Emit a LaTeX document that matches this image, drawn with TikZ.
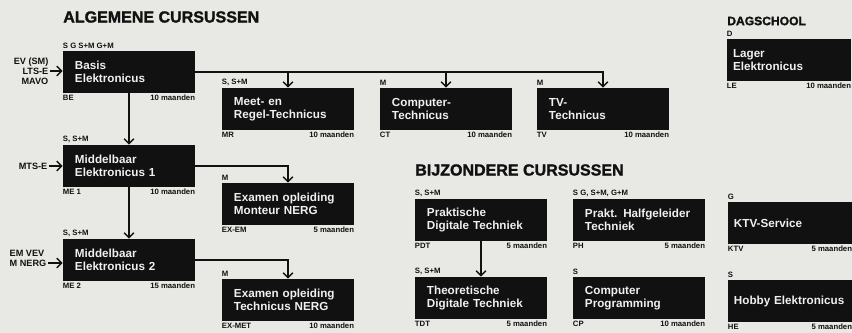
\documentclass[tikz,border=0pt]{standalone}
\usepackage{fontspec}
\setmainfont{Liberation Sans}
\newfontfamily\blackfont{Liberation Sans}[BoldFeatures={FakeBold=1.6}]
\usetikzlibrary{arrows.meta}
\definecolor{Paper}{HTML}{E8E8E4}
\definecolor{Ink}{HTML}{111111}

\begin{document}
\begin{tikzpicture}[x=0.025cm,y=-0.025cm,font=\bfseries,>={Straight Barb[length=3.5pt,width=7pt]}]
  \tikzset{
    course/.style={fill=Ink,text=white!94!black,minimum width=3.3cm,minimum height=1.05cm,
      text width=2.7cm,inner xsep=.3cm,align=left,font=\bfseries\fontsize{8.3}{9.4}\selectfont},
    edge course/.style={course,minimum width=3.1cm,text width=2.8cm,inner xsep=.15cm},
    tag/.style={inner xsep=0pt,inner ysep=1.2pt,text=Ink,font=\bfseries\fontsize{5.5}{6}\selectfont},
    entry/.style={inner sep=1pt,text=Ink,font=\bfseries\fontsize{6.5}{7.2}\selectfont},
    title/.style={anchor=west,inner sep=0pt,text=Ink,font=\blackfont\bfseries\fontsize{11.4}{12}\selectfont},
    arr/.style={->,draw=Ink,line width=1pt}
  }
  \clip (0,0) rectangle (852,333);
  \fill[Paper] (0,0) rectangle (852,333);

  % algemene cursussen
  \node[title] (alg) at (63,17) {ALGEMENE CURSUSSEN};
  \node[course,
    label={[tag,anchor=south west]north west:S G S+M G+M},
    label={[tag,anchor=north west]south west:BE},
    label={[tag,anchor=north east]south east:10 maanden}] (basis) at (129,72)
    {Basis\\Elektronicus};
  \node[course,
    label={[tag,anchor=south west]north west:S, S+M},
    label={[tag,anchor=north west]south west:MR},
    label={[tag,anchor=north east]south east:10 maanden}] (mr) at (288,109)
    {Meet- en\\Regel-Technicus};
  \node[course,
    label={[tag,anchor=south west]north west:M},
    label={[tag,anchor=north west]south west:CT},
    label={[tag,anchor=north east]south east:10 maanden}] (ct) at (446,109)
    {Computer-\\Technicus};
  \node[course,
    label={[tag,anchor=south west]north west:M},
    label={[tag,anchor=north west]south west:TV},
    label={[tag,anchor=north east]south east:10 maanden}] (tv) at (603,109)
    {TV-\\Technicus};
  \node[course,
    label={[tag,anchor=south west]north west:S, S+M},
    label={[tag,anchor=north west]south west:ME 1},
    label={[tag,anchor=north east]south east:10 maanden}] (me1) at (129,166)
    {Middelbaar\\Elektronicus 1};
  \node[course,
    label={[tag,anchor=south west]north west:M},
    label={[tag,anchor=north west]south west:EX-EM},
    label={[tag,anchor=north east]south east:5 maanden}] (exmn) at (288,204)
    {Examen opleiding\\Monteur NERG};
  \node[course,
    label={[tag,anchor=south west]north west:S, S+M},
    label={[tag,anchor=north west]south west:ME 2},
    label={[tag,anchor=north east]south east:15 maanden}] (me2) at (129,260)
    {Middelbaar\\Elektronicus 2};
  \node[course,
    label={[tag,anchor=south west]north west:M},
    label={[tag,anchor=north west]south west:EX-MET},
    label={[tag,anchor=north east]south east:10 maanden}] (exmt) at (288,300)
    {Examen opleiding\\Technicus NERG};

  % vooropleiding
  \node[entry,anchor=east,align=right] (ent1) at (50,71) {EV (SM)\\LTS-E\\MAVO};
  \node[entry,anchor=east] (ent2) at (49,166) {MTS-E};
  \node[entry,anchor=west] (ent3) at (8,253) {EM VEV};
  \node[entry,anchor=west] (ent3b) at (8,263) {M NERG};
  \draw[arr] (ent1.east) -- (ent1.east -| basis.west);
  \draw[arr] (ent2.east) -- (ent2.east -| me1.west);
  \draw[arr] (ent3b.east) -- (ent3b.east -| me2.west);

  \draw[arr] (basis.east) -| (tv.north);
  \draw[arr] (basis.east -| mr.north) -- (mr.north);
  \draw[arr] (basis.east -| ct.north) -- (ct.north);
  \draw[arr] (basis.south) -- (me1.north);
  \draw[arr] (me1.south) -- (me2.north);
  \draw[arr] (me1.east) -| (exmn.north);
  \draw[arr] (me2.east) -| (exmt.north);

  % bijzondere cursussen
  \node[title] (bijz) at (415,170) {BIJZONDERE CURSUSSEN};
  \node[course,
    label={[tag,anchor=south west]north west:S, S+M},
    label={[tag,anchor=north west]south west:PDT},
    label={[tag,anchor=north east]south east:5 maanden}] (pdt) at (481,220)
    {Praktische\\Digitale Techniek};
  \node[course,
    label={[tag,anchor=south west]north west:S G, S+M, G+M},
    label={[tag,anchor=north west]south west:PH},
    label={[tag,anchor=north east]south east:5 maanden}] (ph) at (639,220)
    {Prakt. Halfgeleider\\Techniek};
  \node[course,
    label={[tag,anchor=south west]north west:S, S+M},
    label={[tag,anchor=north west]south west:TDT},
    label={[tag,anchor=north east]south east:5 maanden}] (tdt) at (481,298)
    {Theoretische\\Digitale Techniek};
  \node[course,
    label={[tag,anchor=south west]north west:S},
    label={[tag,anchor=north west]south west:CP},
    label={[tag,anchor=north east]south east:10 maanden}] (cp) at (639,298)
    {Computer\\Programming};
  \node[edge course,
    label={[tag,anchor=south west]north west:G},
    label={[tag,anchor=north west]south west:KTV},
    label={[tag,anchor=north east]south east:5 maanden}] (ktv) at (790,223)
    {KTV-Service};
  \node[edge course,
    label={[tag,anchor=south west]north west:S},
    label={[tag,anchor=north west]south west:HE},
    label={[tag,anchor=north east]south east:5 maanden}] (he) at (790,301)
    {Hobby Elektronicus};
  \draw[arr] (pdt.south) -- (tdt.north);

  % dagschool
  \node[title,font=\blackfont\bfseries\fontsize{8.6}{9}\selectfont] (dag) at (727,21) {DAGSCHOOL};
  \node[edge course,
    label={[tag,anchor=south west]north west:D},
    label={[tag,anchor=north west]south west:LE},
    label={[tag,anchor=north east]south east:10 maanden}] (le) at (789,60)
    {Lager\\Elektronicus};
\end{tikzpicture}
\end{document}
